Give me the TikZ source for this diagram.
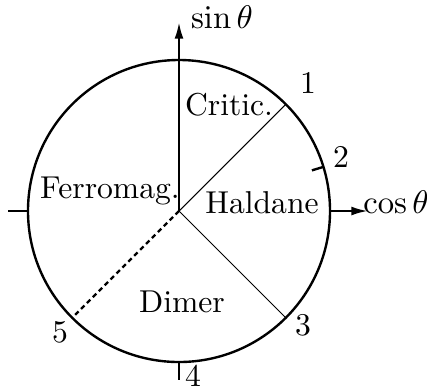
\documentclass[tikz,border=0pt]{standalone}
\usetikzlibrary{arrows.meta,calc}
\begin{document}
\begin{tikzpicture}[x=0.335pt,y=0.335pt,
  lbl/.style={inner sep=0pt,anchor=base,font=\fontsize{10.6pt}{12pt}\selectfont},
  circline/.style={line width=0.8pt},
  axisline/.style={line width=0.8pt,-{Latex[length=5.6pt,width=3pt]}},
  tickline/.style={line width=0.8pt},
  thinline/.style={line width=0.35pt},
  dashline/.style={line width=0.8pt,dash pattern=on 1.6pt off 1.2pt}]
\useasboundingbox (0,0) rectangle (427,385);
\coordinate (O) at (179,174);
\draw[circline] (O) circle[radius=151];
% points on circle
\coordinate (P1) at ($(O)+(45:151)$);
\coordinate (P3) at ($(O)+(-45:151)$);
\coordinate (P5) at ($(O)+(225:151)$);
\coordinate (P2) at ($(O)+(17:151)$);
\coordinate (P2i) at ($(O)+(17:139)$);
\coordinate (E) at ($(O)+(151,0)$);
\coordinate (Ex) at ($(O)+(189,0)$);
\coordinate (Ny) at ($(O)+(0,189)$);
\coordinate (W) at ($(O)+(-151,0)$);
\coordinate (Wt) at ($(O)+(-171,0)$);
\coordinate (S) at ($(O)+(0,-151)$);
\coordinate (St) at ($(O)+(0,-169)$);
% axes
\draw[axisline] (O) -- (Ny);
\draw[axisline] (E) -- (Ex);
% ticks
\draw[tickline] (W) -- (Wt);
\draw[tickline] (S) -- (St);
\draw[tickline] (P2) -- (P2i);
% boundaries
\draw[thinline] (O) -- (P1);
\draw[thinline] (O) -- (P3);
\draw[dashline] (O) -- (P5);
% labels
\node[lbl] (sin) at (222,357) {$\sin\theta$};
\node[lbl] (cos) at (396,172) {$\cos\theta$};
\node[lbl] (l1) at (308,292) {1};
\node[lbl] (l2) at (341,218) {2};
\node[lbl] (l3) at (303,50) {3};
\node[lbl] (l4) at (193,-1) {4};
\node[lbl] (l5) at (60,43) {5};
\node[lbl] (crit) at (229,270) {Critic.};
\node[lbl] (ferro) at (110,187) {Ferromag.};
\node[lbl] (hald) at (262,172) {Haldane};
\node[lbl] (dimer) at (182,73) {Dimer};
\end{tikzpicture}
\end{document}
